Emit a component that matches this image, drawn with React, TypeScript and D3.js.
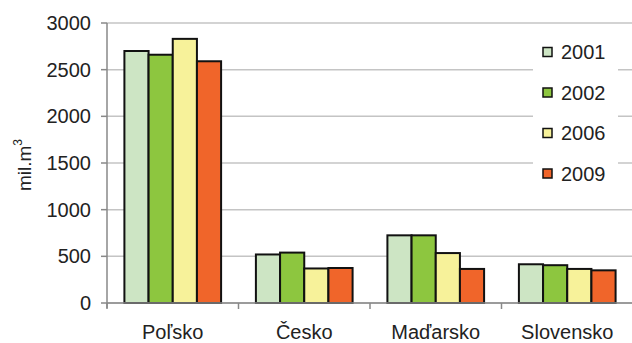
import React from "react";
import * as d3 from "d3";

const countries = ["Poľsko", "Česko", "Maďarsko", "Slovensko"];
const years = ["2001", "2002", "2006", "2009"];
const values2001 = [2700, 520, 725, 415];
const values2002 = [2660, 540, 725, 405];
const values2006 = [2830, 370, 535, 365];
const values2009 = [2590, 375, 365, 350];
const yTicks = [0, 500, 1000, 1500, 2000, 2500, 3000];
const colors = ["#cde5c4", "#8dc63f", "#f7f29a", "#f0652a"];

const series = [values2001, values2002, values2006, values2009];

const W = 632;
const H = 343;
const margin = { left: 107, right: -1, top: 23, bottom: 40 };

export default function App() {
  const x = d3
    .scaleBand<string>()
    .domain(countries)
    .range([margin.left, W - margin.right])
    .paddingInner(0)
    .paddingOuter(0);
  const xInner = d3
    .scaleBand<string>()
    .domain(years)
    .range([0, x.bandwidth()])
    .paddingOuter(0.72)
    .paddingInner(0);
  const y = d3.scaleLinear().domain([0, 3000]).range([H - margin.bottom, margin.top]);
  const font = "'Liberation Sans', Arial, sans-serif";
  const x0 = margin.left;
  const x1 = W - margin.right;

  return (
    <svg
      width={W}
      height={H}
      style={{ position: "absolute", left: 0, top: 0, background: "#fff" }}
      fontFamily={font}
    >
      {/* gridlines */}
      {yTicks.map((t) => (
        <line key={t} x1={x0} x2={x1} y1={y(t)} y2={y(t)} stroke="#c4c4c4" strokeWidth={1.5} />
      ))}
      {/* legend backdrop */}
      <rect x={533} y={33} width={85} height={158} fill="#fff" />
      {/* bars */}
      {countries.map((c, i) => (
        <g key={c} transform={`translate(${x(c)},0)`}>
          {years.map((yr, j) => (
            <rect
              key={yr}
              x={xInner(yr)}
              y={y(series[j][i])}
              width={xInner.bandwidth()}
              height={y(0) - y(series[j][i])}
              fill={colors[j]}
              stroke="#111"
              strokeWidth={2}
            />
          ))}
        </g>
      ))}
      {/* y axis */}
      <line x1={x0} x2={x0} y1={y(3000)} y2={y(0) + 5} stroke="#888" strokeWidth={1.5} />
      {yTicks.map((t) => (
        <g key={t}>
          <line x1={x0 - 6} x2={x0} y1={y(t)} y2={y(t)} stroke="#888" strokeWidth={1.5} />
          <text x={91} y={y(t)} dy="0.35em" textAnchor="end" fontSize={20} fill="#222">
            {t}
          </text>
        </g>
      ))}
      {/* x axis */}
      <line x1={x0} x2={x1} y1={y(0)} y2={y(0)} stroke="#888" strokeWidth={1.5} />
      {countries.map((c) => (
        <g key={c}>
          <line
            x1={x(c) as number}
            x2={x(c) as number}
            y1={y(0)}
            y2={y(0) + 6}
            stroke="#888"
            strokeWidth={1.5}
          />
          <text
            x={(x(c) as number) + x.bandwidth() / 2}
            y={339}
            textAnchor="middle"
            fontSize={20}
            fill="#222"
          >
            {c}
          </text>
        </g>
      ))}
      {/* y title */}
      <text
        transform={`translate(31,165) rotate(-90)`}
        textAnchor="middle"
        fontSize={19}
        fill="#222"
      >
        mil.m<tspan dy={-9} fontSize={12}>3</tspan>
      </text>
      {/* legend */}
      {years.map((yr, j) => (
        <g key={yr} transform={`translate(543,${52 + j * 40.5})`}>
          <rect x={0} y={-4.5} width={9} height={9} fill={colors[j]} stroke="#111" strokeWidth={1.5} />
          <text x={18} y={0} dy="0.36em" fontSize={20} fill="#222">
            {yr}
          </text>
        </g>
      ))}
    </svg>
  );
}
